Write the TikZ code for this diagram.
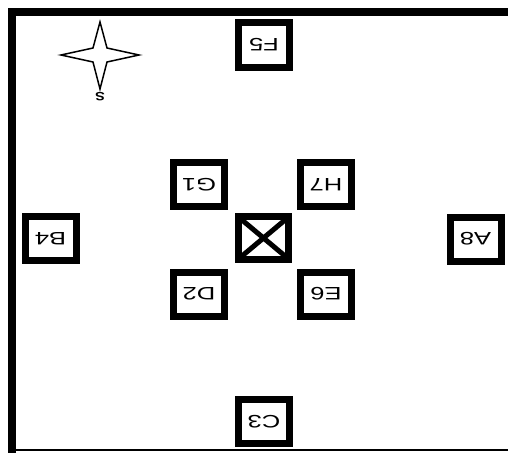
\documentclass[tikz,border=0pt]{standalone}
\usepackage{graphicx}
\usepackage{fontspec}
\setmainfont{Liberation Sans}
\newcommand{\widetxt}[1]{\scalebox{1.42}[1]{#1}}
\begin{document}
\begin{tikzpicture}[x=1pt,y=-1pt,
  roombox/.style={draw,line width=7pt,minimum width=51pt,minimum height=44pt,inner sep=0pt,
    font=\fontsize{18}{18}\selectfont,rotate=180},
  crossbox/.style={draw,line width=7pt,minimum width=50pt,minimum height=43pt,inner sep=0pt,outer sep=0pt}]
\useasboundingbox (0,0) rectangle (508,452);
% frame
\draw[line width=8pt] (12,456) -- (12,12) -- (515,12);
\draw[line width=1.2pt] (12,450) -- (508,450);
% rooms
\node[roombox] (F5) at (264,45) {\widetxt{F5}};
\node[roombox] (C3) at (264,421.5) {\widetxt{C3}};
\node[roombox] (B4) at (50.5,238.5) {\widetxt{B4}};
\node[roombox] (A8) at (475.5,239) {\widetxt{A8}};
\node[roombox] (G1) at (199,184.5) {\widetxt{G1}};
\node[roombox] (H7) at (326,184.5) {\widetxt{H7}};
\node[roombox] (D2) at (199,294) {\widetxt{D2}};
\node[roombox] (E6) at (326,294) {\widetxt{E6}};
\node[crossbox] (X) at (263.5,238) {};
\coordinate (xa) at ([xshift=3.5pt,yshift=3.5pt]X.south west);
\coordinate (xb) at ([xshift=-3.5pt,yshift=-3.5pt]X.north east);
\coordinate (xc) at ([xshift=3.5pt,yshift=-3.5pt]X.north west);
\coordinate (xd) at ([xshift=-3.5pt,yshift=3.5pt]X.south east);
\begin{scope}
\clip (xa) rectangle (xb);
\draw[line width=5pt] (xa) -- (xb);
\draw[line width=5pt] (xc) -- (xd);
\end{scope}
% compass star
\draw[line width=1.5pt,fill=white] (100,22) -- (107,48) -- (139,55) -- (107,62) -- (100,89)
  -- (93,62) -- (61,55) -- (93,48) -- cycle;
\node[rotate=180,font=\fontsize{12}{12}\selectfont\bfseries,inner sep=0pt] (S) at (100,97) {\scalebox{1.2}[1]{S}};
\end{tikzpicture}
\end{document}
